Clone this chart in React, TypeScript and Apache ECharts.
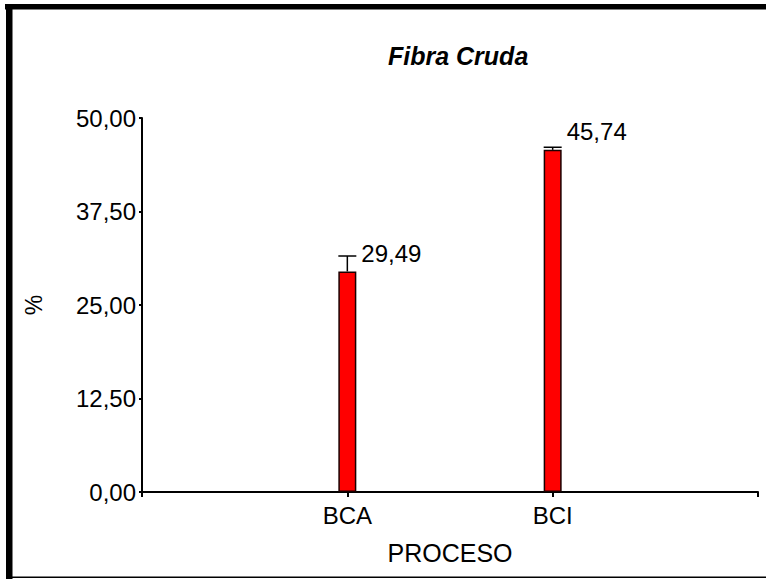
import React, { useEffect, useRef } from "react";
import * as echarts from "echarts";

// Crude fibre content per process
const categories = ["BCA", "BCI"];
const means = [29.49, 45.74];
const errors = [2.06, 0.35];
const yTicks = [0, 12.5, 25, 37.5, 50];

const FONT = "'Liberation Sans', Arial, Helvetica, sans-serif";
const fmt = (v: number) => v.toFixed(2).replace(".", ",");

export default function App() {
  const ref = useRef<HTMLDivElement>(null);

  useEffect(() => {
    if (!ref.current) return;
    const chart = echarts.init(ref.current, undefined, { renderer: "svg" });

    // category i sits at position i + 1 on a 0..(n+1) value axis
    const barData = means.map((m, i) => [i + 1, m]);
    const errData = means.map((m, i) => [i + 1, m, errors[i]]);
    const BAR_W = 18;

    chart.setOption({
      animation: false,
      backgroundColor: "#ffffff",
      title: {
        text: "Fibra Cruda",
        left: 383,
        top: 38,
        textStyle: {
          fontFamily: FONT,
          fontSize: 25,
          fontWeight: "bold",
          fontStyle: "italic",
          color: "#000",
        },
      },
      grid: { left: 142, right: 8, top: 118, bottom: 87, containLabel: false },
      xAxis: {
        type: "value",
        min: 0,
        max: categories.length + 1,
        interval: 1,
        name: "PROCESO",
        nameLocation: "middle",
        nameGap: 48,
        nameTextStyle: { fontFamily: FONT, fontSize: 25, color: "#000" },
        axisLine: { show: true, lineStyle: { color: "#000", width: 2 } },
        axisTick: { show: true, length: 5, lineStyle: { color: "#000", width: 2 } },
        axisLabel: {
          margin: 11,
          fontFamily: FONT,
          fontSize: 24,
          color: "#000",
          formatter: (v: number) => categories[v - 1] ?? "",
        },
        splitLine: { show: false },
      },
      yAxis: {
        type: "value",
        min: yTicks[0],
        max: yTicks[yTicks.length - 1],
        interval: yTicks[1] - yTicks[0],
        name: "%",
        nameLocation: "middle",
        nameRotate: 90,
        nameGap: 97,
        nameTextStyle: { fontFamily: FONT, fontSize: 23, color: "#000" },
        axisLine: { show: true, lineStyle: { color: "#000", width: 2 } },
        axisTick: { show: true, length: 3, lineStyle: { color: "#000", width: 2 } },
        axisLabel: {
          margin: 6,
          fontFamily: FONT,
          fontSize: 24,
          color: "#000",
          formatter: (v: number) => fmt(v),
        },
        splitLine: { show: false },
      },
      series: [
        {
          type: "bar",
          data: barData,
          barWidth: BAR_W,
          itemStyle: { color: "#ff0000", borderColor: "#1a0000", borderWidth: 1.5 },
          z: 2,
        },
        {
          type: "custom",
          data: errData,
          z: 3,
          renderItem: (params: any, api: any) => {
            const x = api.value(0);
            const m = api.value(1);
            const e = api.value(2);
            const base = api.coord([x, m]);
            const top = api.coord([x, m + e]);
            const half = BAR_W / 2;
            return {
              type: "group",
              children: [
                {
                  type: "line",
                  shape: { x1: base[0], y1: base[1], x2: top[0], y2: top[1] },
                  style: { stroke: "#000", lineWidth: 1.5 },
                },
                {
                  type: "line",
                  shape: { x1: top[0] - half, y1: top[1], x2: top[0] + half, y2: top[1] },
                  style: { stroke: "#000", lineWidth: 1.5 },
                },
                {
                  type: "text",
                  x: base[0] + half + 5,
                  y: base[1] - 6,
                  style: {
                    text: fmt(m),
                    fontFamily: FONT,
                    fontSize: 24,
                    fill: "#000",
                    align: "left",
                    verticalAlign: "bottom",
                  },
                },
              ],
            };
          },
        },
      ],
      graphic: [
        // frame: heavy top and left edges, thin bottom edge
        { type: "rect", shape: { x: 5, y: 4, width: 761, height: 5.5 }, style: { fill: "#000" }, silent: true },
        { type: "rect", shape: { x: 6, y: 4, width: 6.5, height: 575 }, style: { fill: "#000" }, silent: true },
        { type: "rect", shape: { x: 6, y: 576.5, width: 760, height: 1.5 }, style: { fill: "#000" }, silent: true },
      ],
    });

    return () => chart.dispose();
  }, []);

  return (
    <div
      ref={ref}
      style={{ position: "fixed", left: 0, top: 0, width: 766, height: 579, background: "#fff" }}
    />
  );
}
